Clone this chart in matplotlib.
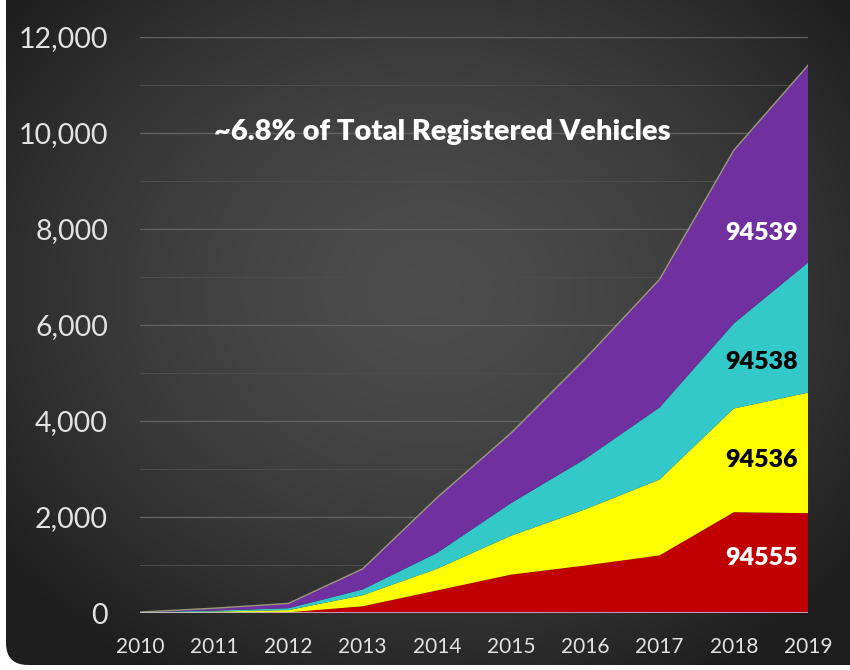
import numpy as np
import matplotlib
matplotlib.use("Agg")
import matplotlib.pyplot as plt
from matplotlib.patches import FancyBboxPatch
from matplotlib.ticker import FuncFormatter, MultipleLocator

years = [2010, 2011, 2012, 2013, 2014, 2015, 2016, 2017, 2018, 2019]
zip_94555 = [5, 10, 15, 140, 470, 800, 990, 1200, 2100, 2080]
zip_94536 = [5, 20, 45, 230, 450, 810, 1170, 1580, 2160, 2510]
zip_94538 = [5, 20, 40, 120, 330, 680, 1050, 1500, 1770, 2710]
zip_94539 = [5, 50, 100, 430, 1150, 1460, 2090, 2670, 3610, 4110]

series = [zip_94555, zip_94536, zip_94538, zip_94539]
names = ["94555", "94536", "94538", "94539"]
colors = ["#c00000", "#ffff00", "#33c9c9", "#7030a0"]
label_colors = ["white", "black", "black", "white"]
note = "~6.8% of Total Registered Vehicles"

plt.rcParams['font.family'] = ['Lato', 'DejaVu Sans']

fig = plt.figure(figsize=(8.5, 6.7), dpi=100, facecolor="white")

# dark rounded panel with radial vignette
bg = fig.add_axes([0, 0, 1, 1])
bg.set_xlim(0, 850)
bg.set_ylim(0, 670)
bg.axis("off")
gx, gy = np.meshgrid(np.linspace(0, 850, 425), np.linspace(0, 670, 335))
r = np.sqrt(((gx - 430) / 520) ** 2 + ((gy - 380) / 430) ** 2)
shade = np.clip(0.30 - 0.17 * r ** 1.6, 0.12, 0.30)
img = np.dstack([shade, shade, shade])
im = bg.imshow(img, extent=[0, 850, 0, 670], origin="lower", aspect="auto", zorder=0)
panel = FancyBboxPatch((6, 5), 900, 720, boxstyle="round,pad=0,rounding_size=22",
                       facecolor="none", edgecolor="none", transform=bg.transData)
bg.add_patch(panel)
im.set_clip_path(panel)

ax = fig.add_axes([140 / 850, 1 - 613 / 670, 668 / 850, 576 / 670])
ax.set_facecolor("none")

ax.stackplot(years, *series, colors=colors, linewidth=0, zorder=3)
top = np.sum(series, axis=0)
ax.plot(years, top, color="#9a9a7a", lw=1.0, zorder=4)
ax.axhline(0, color="#c8c8e6", lw=1.8, zorder=5)

ax.set_xlim(2010, 2019)
ax.set_ylim(0, 12000)
ax.yaxis.set_major_locator(MultipleLocator(2000))
ax.yaxis.set_minor_locator(MultipleLocator(1000))
ax.yaxis.set_major_formatter(FuncFormatter(lambda v, p: f"{int(v):,}"))
ax.set_xticks(years)
ax.grid(axis="y", which="major", color="#626262", lw=1.0, zorder=1)
ax.grid(axis="y", which="minor", color="#4c4c4c", lw=0.8, zorder=1)
for s in ax.spines.values():
    s.set_visible(False)
ax.tick_params(axis="y", which="both", length=0, pad=23, labelsize=20.5, labelcolor="#e2e2e2")
ax.tick_params(axis="x", length=0, pad=17, labelsize=15, labelcolor="#e2e2e2")

ax.text(0.452, 0.835, note, transform=ax.transAxes, ha="center", va="center",
        fontsize=21, fontweight="heavy", color="white", zorder=6)

label_y = [0.095, 0.265, 0.435, 0.66]
for name, c, y in zip(names, label_colors, label_y):
    ax.text(0.931, y, name, transform=ax.transAxes, ha="center", va="center",
            fontsize=18, fontweight="heavy", color=c, zorder=6)

fig.savefig("out.png", dpi=100, facecolor="white")
